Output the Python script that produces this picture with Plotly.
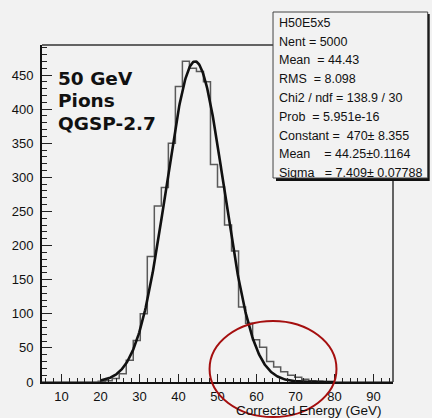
import numpy as np
import plotly.graph_objects as go

# Histogram H50E5x5: 50 bins from 5 to 95 GeV
BIN_LO = 5.0
BIN_W = 1.8
counts = [0, 0, 0, 0, 0, 0, 0, 0, 1, 2,
          5, 12, 32, 61, 100, 184, 258, 285, 350, 433,
          470, 460, 455, 440, 319, 286, 230, 192, 110, 86,
          62, 51, 30, 22, 15, 10, 7, 4, 2, 1,
          0, 0, 0, 0, 0, 0, 0, 0, 0, 0]

# Gaussian fit parameters
fit_const = 470.0
fit_mean = 44.25
fit_sigma = 7.409
fit_range = (20.0, 80.0)

stats_lines = [
    "H50E5x5",
    "Nent = 5000",
    "Mean  = 44.43",
    "RMS  = 8.098",
    "Chi2 / ndf = 138.9 / 30",
    "Prob  = 5.951e-16",
    "Constant =  470\u00b1 8.355",
    "Mean    = 44.25\u00b10.1164",
    "Sigma   = 7.409\u00b1 0.07788",
]
label_lines = ["50 GeV", "Pions", "QGSP-2.7"]
x_title = "Corrected Energy (GeV)"

W, H = 432, 418
ML, MR, MT, MB = 39, 39, 45, 36
PW, PH = W - ML - MR, H - MT - MB
BG = "#f2f2f2"


def px(x):
    return (x - ML) / PW


def py(y):
    return (H - MB - y) / PH


n = len(counts)
edges = [BIN_LO + BIN_W * i for i in range(n + 1)]
step_x = [edges[0]] + edges
step_y = [0] + counts + [counts[-1]]

xf = np.linspace(fit_range[0], fit_range[1], 400)
yf = fit_const * np.exp(-0.5 * ((xf - fit_mean) / fit_sigma) ** 2)

fig = go.Figure()
fig.add_trace(go.Scatter(x=step_x, y=step_y, mode="lines", line_shape="hv",
                         line=dict(color="#5a5a5a", width=1.5),
                         hoverinfo="skip", showlegend=False))
fig.add_trace(go.Scatter(x=xf, y=yf, mode="lines",
                         line=dict(color="#111111", width=2.6),
                         hoverinfo="skip", showlegend=False))

tick_font = dict(family="Liberation Sans, Arial, sans-serif", size=13, color="#111111")
fig.update_xaxes(range=[5, 95], tickmode="array", tickvals=list(range(10, 100, 10)),
                 ticks="inside", ticklen=8, tickwidth=1, tickcolor="#222222",
                 minor=dict(dtick=2, tick0=0, ticks="inside", ticklen=4,
                            tickcolor="#222222", tickwidth=1),
                 showline=True, linewidth=2, linecolor="#111111",
                 showgrid=False, zeroline=False, tickfont=tick_font,
                 ticklabelstandoff=1)
fig.update_yaxes(range=[0, 494], tickmode="array", tickvals=list(range(0, 500, 50)),
                 ticks="inside", ticklen=10, tickwidth=1, tickcolor="#222222",
                 minor=dict(dtick=10, tick0=0, ticks="inside", ticklen=5,
                            tickcolor="#222222", tickwidth=1),
                 showline=True, linewidth=2, linecolor="#111111",
                 showgrid=False, zeroline=False, tickfont=tick_font,
                 ticklabelstandoff=4)

shapes = [
    # frame top and right
    dict(type="line", xref="paper", yref="paper", x0=0, x1=1, y0=1, y1=1,
         line=dict(color="#333333", width=1.5)),
    dict(type="line", xref="paper", yref="paper", x0=1, x1=1, y0=0, y1=1,
         line=dict(color="#333333", width=1.5)),
    # stats box shadow and box
    dict(type="rect", xref="paper", yref="paper",
         x0=px(275), x1=px(430), y0=py(181), y1=py(14),
         fillcolor="#111111", line=dict(width=0)),
    dict(type="rect", xref="paper", yref="paper",
         x0=px(272), x1=px(428), y0=py(178), y1=py(12),
         fillcolor=BG, line=dict(color="#444444", width=1)),
    # red ellipse around the high-energy tail
    dict(type="circle", xref="paper", yref="paper",
         x0=px(208), x1=px(336), y0=py(417), y1=py(321),
         line=dict(color="#a50f0f", width=2), fillcolor="rgba(0,0,0,0)"),
]

annotations = []
box_font = dict(family="Liberation Sans, Arial, sans-serif", size=12.5, color="#111111")
for i, s in enumerate(stats_lines):
    annotations.append(dict(text=s.replace(" ", "\u00a0"), xref="paper", yref="paper",
                            x=px(276), y=py(23 + 18.75 * i), xanchor="left",
                            yanchor="middle", showarrow=False, font=box_font))

big_font = dict(family="DejaVu Sans, sans-serif", size=18.5, color="#111111")
for s, yc in zip(label_lines, [78, 101, 123]):
    annotations.append(dict(text="<b>" + s + "</b>", xref="paper", yref="paper",
                            x=px(53), y=py(yc), xanchor="left", yanchor="middle",
                            showarrow=False, font=big_font))

annotations.append(dict(text=x_title.replace(" ", "\u00a0"), xref="paper", yref="paper",
                        x=px(384), y=py(410), xanchor="right", yanchor="middle",
                        showarrow=False,
                        font=dict(family="Liberation Sans, Arial, sans-serif",
                                  size=13.5, color="#111111")))

fig.update_layout(width=W, height=H, margin=dict(l=ML, r=MR, t=MT, b=MB),
                  paper_bgcolor=BG, plot_bgcolor=BG, shapes=shapes,
                  annotations=annotations, showlegend=False)

fig.write_html("out.html")
